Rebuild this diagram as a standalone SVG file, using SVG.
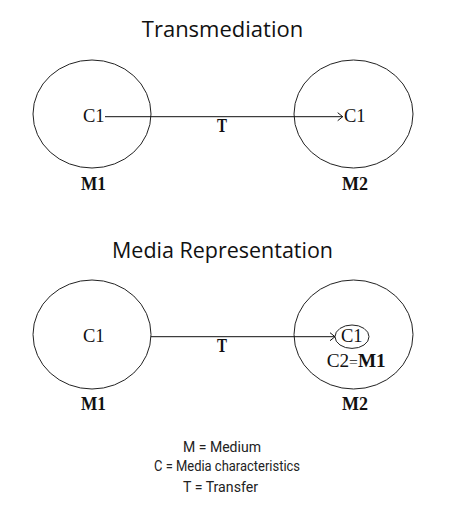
<svg xmlns="http://www.w3.org/2000/svg" width="450" height="505" viewBox="0 0 450 505">
<style>
.title{font-family:"Open Sans","Noto Sans",sans-serif;font-size:22px;fill:#111;text-anchor:middle}
.c{font-family:"Liberation Serif","DejaVu Serif",serif;font-size:18.5px;fill:#111}
.b{font-family:"Liberation Serif","DejaVu Serif",serif;font-size:18px;font-weight:bold;fill:#111;text-anchor:middle}
.ring{fill:none;stroke:#222;stroke-width:1}
.conn{stroke:#111;stroke-width:1;fill:none}
.leg{font-family:"Roboto","Liberation Sans",sans-serif;font-size:14px;fill:#222;text-anchor:middle}
</style>
<defs>
<marker id="arr" markerWidth="8" markerHeight="10" refX="6" refY="5" orient="auto" markerUnits="userSpaceOnUse">
<path d="M1,1 L6,5 L1,9" fill="none" stroke="#111" stroke-width="1"/>
</marker>
</defs>
<rect width="450" height="505" fill="#fff"/>
<text class="title" x="222.5" y="36.7">Transmediation</text>
<g id="top-m1">
<ellipse class="ring" cx="92" cy="114" rx="59" ry="54"/>
<text class="c" x="83" y="121.7">C1</text>
<text class="b" x="93.5" y="190" textLength="25" lengthAdjust="spacingAndGlyphs">M1</text>
</g>
<g id="top-m2">
<ellipse class="ring" cx="353.5" cy="114" rx="59.5" ry="54"/>
<text class="c" x="344" y="121.7">C1</text>
<text class="b" x="355" y="190" textLength="26" lengthAdjust="spacingAndGlyphs">M2</text>
</g>
<text class="title" x="222.5" y="258" textLength="221" lengthAdjust="spacingAndGlyphs">Media Representation</text>
<g id="bot-m1">
<ellipse class="ring" cx="92" cy="334.5" rx="59" ry="54.5"/>
<text class="c" x="83" y="342">C1</text>
<text class="b" x="93.5" y="410" textLength="25" lengthAdjust="spacingAndGlyphs">M1</text>
</g>
<g id="bot-m2">
<ellipse class="ring" cx="353.5" cy="334.5" rx="59.5" ry="54.5"/>
<ellipse class="ring" cx="352" cy="336.7" rx="17" ry="11.7"/>
<text class="c" x="341" y="341.7" font-size="17.5">C1</text>
<text class="c" x="326.7" y="367" font-size="17.5" textLength="59" lengthAdjust="spacingAndGlyphs">C2<tspan font-size="15">=</tspan><tspan font-weight="bold">M1</tspan></text>
<text class="b" x="355" y="410" textLength="26" lengthAdjust="spacingAndGlyphs">M2</text>
</g>
<g id="connectors">
<line class="conn" x1="105" y1="116.7" x2="342.7" y2="116.7" marker-end="url(#arr)"/>
<text class="b" x="222" y="131.7" font-size="17" textLength="10" lengthAdjust="spacingAndGlyphs">T</text>
<line class="conn" x1="151" y1="336.7" x2="335" y2="336.7" marker-end="url(#arr)"/>
<text class="b" x="222" y="352" font-size="17" textLength="10" lengthAdjust="spacingAndGlyphs">T</text>
</g>
<g id="legend">
<text class="leg" x="222" y="452" textLength="78" lengthAdjust="spacingAndGlyphs">M = Medium</text>
<text class="leg" x="227" y="471" textLength="146" lengthAdjust="spacingAndGlyphs">C = Media characteristics</text>
<text class="leg" x="220.5" y="492" textLength="75" lengthAdjust="spacingAndGlyphs">T = Transfer</text>
</g>
</svg>
